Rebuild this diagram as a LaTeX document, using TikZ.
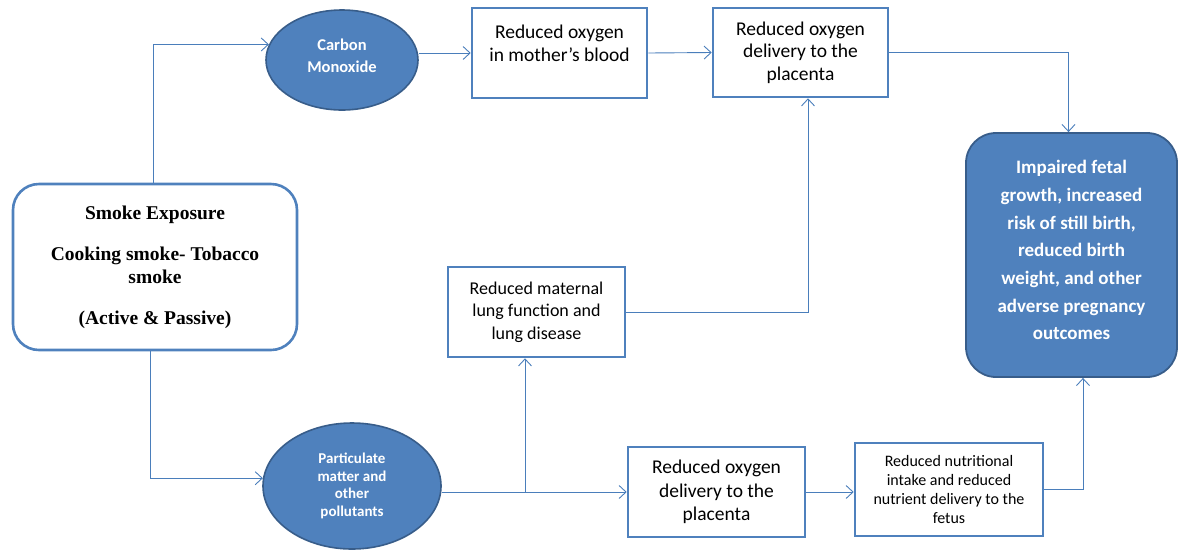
\documentclass[tikz,border=0pt]{standalone}
\usepackage{fontspec}
\setmainfont{Carlito}
\newfontfamily\serifbold{Liberation Serif}
\usetikzlibrary{arrows.meta,shapes.geometric}
\definecolor{lineblue}{HTML}{4A7EBB}
\definecolor{boxblue}{HTML}{4F81BD}
\definecolor{darkblue}{HTML}{385D8A}
\tikzset{
  arr/.style={draw=lineblue,line width=0.9pt,-{Straight Barb[length=7pt,width=13pt,line width=0.9pt]}},
  wbox/.style={draw=boxblue,line width=2.6pt,fill=white,rectangle,align=center,inner sep=1pt},
  bluebubble/.style={ellipse,draw=darkblue,line width=1.6pt,fill=boxblue,text=white,align=center,inner sep=0pt},
}
\begin{document}
\begin{tikzpicture}[x=1pt,y=-1pt]
\useasboundingbox (0,0) rectangle (1178,550);
\node[draw=boxblue,line width=2.6pt,rounded corners=26pt,minimum width=284pt,minimum height=166pt,align=center,
  font=\serifbold\bfseries\fontsize{19.5}{23}\selectfont] (smoke) at (155,267)
  {Smoke Exposure\\[18pt]Cooking smoke- Tobacco\\smoke\\[18pt](Active \& Passive)};
\node[bluebubble,minimum width=152pt,minimum height=100pt,font=\bfseries\fontsize{16.5}{22}\selectfont] (co) at (342,60) {Carbon\\Monoxide\\[-14pt]~};
\node[wbox,minimum width=175pt,minimum height=90pt,font=\fontsize{19.5}{22.5}\selectfont] (mom) at (559.5,53) {Reduced oxygen\\in mother’s blood\\[-3pt]~};
\node[wbox,minimum width=175pt,minimum height=89pt,font=\fontsize{19.5}{22.5}\selectfont] (plac1) at (800.5,52.5) {Reduced oxygen\\delivery to the\\placenta};
\node[draw=darkblue,line width=1.8pt,fill=boxblue,rounded corners=30pt,minimum width=211pt,minimum height=244pt,
  text=white,align=center,font=\bfseries\fontsize{19}{27.7}\selectfont] (res) at (1071.5,255)
  {Impaired fetal\\growth, increased\\risk of still birth,\\reduced birth\\weight, and other\\adverse pregnancy\\outcomes\\[-18pt]~};
\node[wbox,minimum width=177pt,minimum height=90pt,font=\fontsize{18}{22.5}\selectfont] (lung) at (536.5,312) {Reduced maternal\\lung function and\\lung disease};
\node[bluebubble,minimum width=178pt,minimum height=126pt,font=\bfseries\fontsize{15}{17.5}\selectfont] (pm) at (352,486) {Particulate\\matter and\\other\\pollutants};
\node[wbox,minimum width=177pt,minimum height=90pt,font=\fontsize{19.5}{23.5}\selectfont] (plac2) at (716.5,492) {Reduced oxygen\\delivery to the\\placenta};
\node[wbox,minimum width=188pt,minimum height=93pt,font=\fontsize{16}{19.3}\selectfont] (nut) at (949,489.5) {Reduced nutritional\\intake and reduced\\nutrient delivery to the\\fetus};
\coordinate (br) at (525,492);
\draw[arr] ([xshift=-2pt]smoke.north) |- (co.168);
\draw[arr] ([xshift=-5pt]smoke.south) |- (pm.175);
\draw[arr] (co.east |- mom) -- (mom.west);
\draw[arr] (mom.east) -- (plac1.west);
\draw[arr] (plac1.east) -| ([xshift=-3pt]res.north);
\draw[arr] (pm.east |- plac2) -- (plac2.west);
\draw[arr] (br) -- (br |- lung.south);
\draw[arr] (lung.east) -| ([xshift=7.5pt]plac1.south);
\draw[arr] (plac2.east) -- (plac2.east -| nut.west);
\draw[arr] (nut.east) -| ([xshift=11.5pt]res.south);
\end{tikzpicture}
\end{document}
